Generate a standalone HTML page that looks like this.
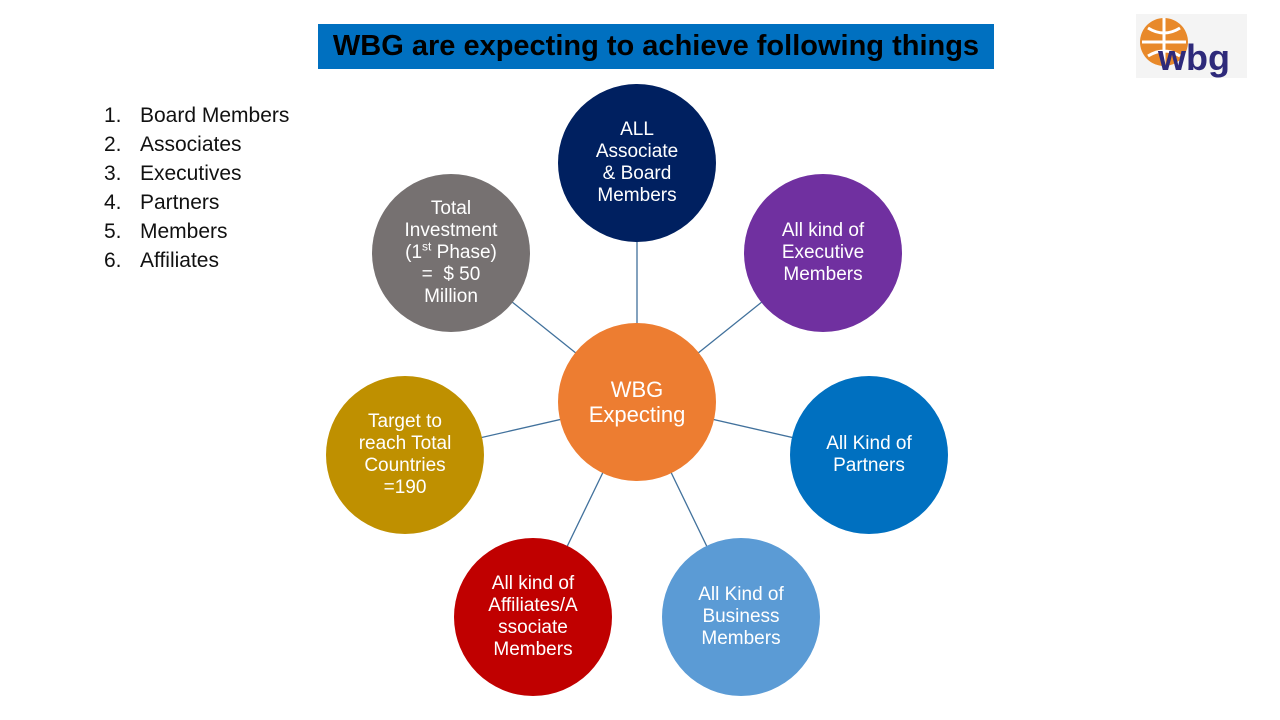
<!DOCTYPE html>
<html><head><meta charset="utf-8"><style>
body{margin:0;width:1280px;height:720px;background:#fff;position:relative;overflow:hidden;font-family:"Liberation Sans",sans-serif}
.t{position:absolute;left:318px;top:24px;width:676px;height:45px;background:#0070c0;color:#000;font-weight:bold;font-size:29px;display:flex;align-items:center;justify-content:center}
.list{position:absolute;left:104px;top:101px;font-size:21px;line-height:29px;color:#111}
.list div span{display:inline-block;width:36px}
.c{position:absolute;width:158px;height:158px;border-radius:50%;color:#fff;font-size:19px;line-height:22px;display:flex;align-items:center;justify-content:center;text-align:center}
</style></head><body>
<div class="t">WBG are expecting to achieve following things</div>
<div style="position:absolute;left:1136px;top:14px;width:111px;height:64px;background:#f4f4f4"></div>
<svg style="position:absolute;left:1136px;top:14px" width="111" height="64">
<circle cx="28" cy="28" r="24" fill="#e8892a"/>
<path d="M6 28h44M28 4v48M12 14q16 10 32 0M12 42q16-10 32 0" stroke="#fff" stroke-width="3" fill="none"/>
<text x="22" y="56" font-family="Liberation Sans" font-weight="bold" font-size="36" fill="#2e2a7a">wbg</text>
</svg>
<div class="list">
<div><span>1.</span>Board Members</div><div><span>2.</span>Associates</div><div><span>3.</span>Executives</div><div><span>4.</span>Partners</div><div><span>5.</span>Members</div><div><span>6.</span>Affiliates</div>
</div>
<svg style="position:absolute;left:0;top:0" width="1280" height="720">
<g stroke="#41719c" stroke-width="1.3">
<line x1="637" y1="402" x2="637" y2="163"/><line x1="637" y1="402" x2="823" y2="253"/>
<line x1="637" y1="402" x2="869" y2="455"/><line x1="637" y1="402" x2="741" y2="617"/>
<line x1="637" y1="402" x2="533" y2="617"/><line x1="637" y1="402" x2="405" y2="455"/>
<line x1="637" y1="402" x2="451" y2="253"/></g></svg>
<div class="c" style="left:558px;top:84px;background:#002060"><div>ALL<br>Associate<br>&amp; Board<br>Members</div></div>
<div class="c" style="left:744px;top:174px;background:#7030a0"><div>All kind of<br>Executive<br>Members</div></div>
<div class="c" style="left:790px;top:376px;background:#0070c0"><div>All Kind of<br>Partners</div></div>
<div class="c" style="left:662px;top:538px;background:#5b9bd5"><div>All Kind of<br>Business<br>Members</div></div>
<div class="c" style="left:454px;top:538px;background:#c00000"><div>All kind of<br>Affiliates/A<br>ssociate<br>Members</div></div>
<div class="c" style="left:326px;top:376px;background:#bf9000"><div>Target to<br>reach Total<br>Countries<br>=190</div></div>
<div class="c" style="left:372px;top:174px;background:#767171"><div>Total<br>Investment<br>(1<sup style="font-size:12px;line-height:0">st</sup> Phase)<br>= &nbsp;$ 50<br>Million</div></div>
<div class="c" style="left:558px;top:323px;background:#ed7d31;font-size:22px;line-height:25px"><div>WBG<br>Expecting</div></div>
</body></html>
